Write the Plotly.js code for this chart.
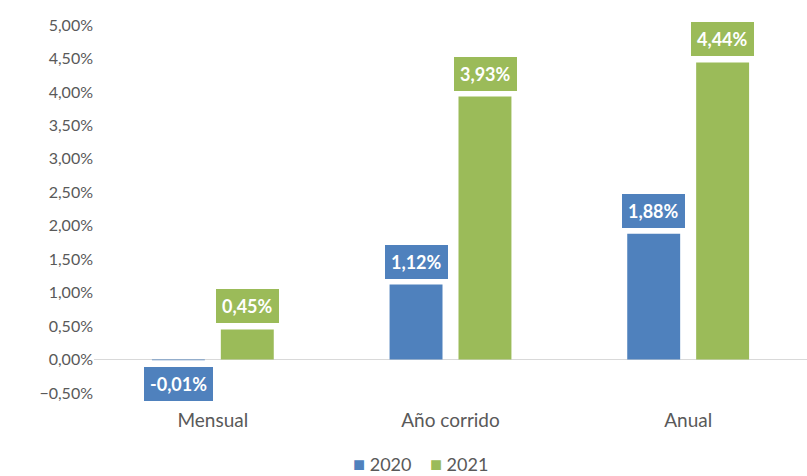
<!DOCTYPE html>
<html>
<head>
<meta charset="utf-8">
<script src="https://cdn.plot.ly/plotly-3.0.1.min.js"></script>
<style>html,body{margin:0;padding:0;background:#fff;}#chart{width:807px;height:476px;}</style>
</head>
<body>
<div id="chart"></div>
<script>
var categories = ["Mensual", "Año corrido", "Anual"];
var series2020 = [-0.0001, 0.0112, 0.0188];
var series2021 = [0.0045, 0.0393, 0.0444];
var seriesNames = ["2020", "2021"];
var colors = ["#4F81BD", "#9BBB59"];
var yTickVals = [-0.005, 0, 0.005, 0.01, 0.015, 0.02, 0.025, 0.03, 0.035, 0.04, 0.045, 0.05];

var FONT = "Lato, 'Open Sans', sans-serif";

function fmt(v) {
  return (v * 100).toFixed(2).replace('.', ',') + '%';
}

var allSeries = [series2020, series2021];
var traces = allSeries.map(function (vals, i) {
  return {
    type: 'bar',
    name: seriesNames[i],
    x: categories,
    y: vals,
    marker: { color: colors[i] },
    hoverinfo: 'none'
  };
});

var annotations = [];
allSeries.forEach(function (vals, i) {
  vals.forEach(function (v, j) {
    var pos = v >= 0;
    annotations.push({
      x: categories[j],
      y: v,
      xref: 'x',
      yref: 'y',
      text: '<b>' + fmt(v) + '</b>',
      showarrow: false,
      xshift: i === 0 ? -34.5 : 34.5,
      yanchor: pos ? 'bottom' : 'top',
      yshift: pos ? 6 : -7,
      bgcolor: colors[i],
      borderpad: 6,
      borderwidth: 0,
      font: { family: FONT, size: 18, color: '#FFFFFF' }
    });
  });
});

// compact legend built from series names and colours
var legendText = seriesNames.map(function (n, i) {
  return '<span style="color:' + colors[i] + ';font-size:20px">■</span> ' + n;
}).join('&nbsp;&nbsp;&nbsp;&nbsp;');
annotations.push({
  xref: 'paper',
  yref: 'paper',
  x: 0.4586,
  y: -0.19,
  xanchor: 'center',
  yanchor: 'middle',
  showarrow: false,
  text: legendText,
  font: { family: FONT, size: 18, color: '#595959' }
});

var layout = {
  width: 807,
  height: 476,
  margin: { l: 94, r: 0, t: 25, b: 83 },
  paper_bgcolor: '#FFFFFF',
  plot_bgcolor: '#FFFFFF',
  separators: ',.',
  barmode: 'group',
  bargap: 0.42,
  bargroupgap: 0.232,
  font: { family: FONT, color: '#595959', size: 15 },
  xaxis: {
    type: 'category',
    showgrid: false,
    showline: false,
    zeroline: false,
    ticks: '',
    tickfont: { family: FONT, size: 19, color: '#595959' },
    ticklabelstandoff: 14
  },
  yaxis: {
    range: [-0.005, 0.05],
    tickvals: yTickVals,
    tickformat: '.2%',
    showgrid: false,
    zeroline: true,
    zerolinecolor: '#D9D9D9',
    zerolinewidth: 1.5,
    showline: false,
    ticks: '',
    tickfont: { family: FONT, size: 16, color: '#595959' }
  },
  showlegend: false,
  annotations: annotations
};

Plotly.newPlot('chart', traces, layout, { displayModeBar: false, staticPlot: true });
</script>
</body>
</html>
